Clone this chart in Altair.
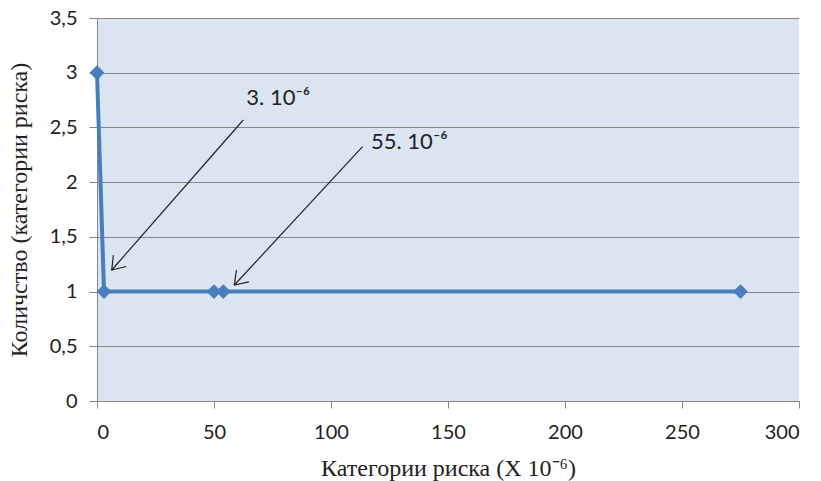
import altair as alt
import pandas as pd

# series
risk_x = [0, 3, 50, 54, 275]
count_y = [3, 1, 1, 1, 1]

# annotation arrows (data coords): start -> end
arr_x1 = [62.5, 113.5]
arr_y1 = [2.568, 2.324]
arr_x2 = [6.3, 58.7]
arr_y2 = [1.197, 1.060]
arr_angle = [131.3, 132.9]

# annotation texts
ann_text = ["3. 10⁻⁶", "55. 10⁻⁶"]
ann_x = [63.8, 117.1]
ann_y = [2.767, 2.367]

df = pd.DataFrame({"x": risk_x, "y": count_y})
arr = pd.DataFrame({"x": arr_x1, "y": arr_y1, "x2": arr_x2, "y2": arr_y2, "angle": arr_angle})
ann = pd.DataFrame({"x": ann_x, "y": ann_y, "t": ann_text})

xs = alt.Scale(domain=[0, 300], nice=False, zero=True)
ys = alt.Scale(domain=[0, 3.5], nice=False)

X = alt.X("x:Q", scale=xs, axis=alt.Axis(
    title="Категории риска (X 10⁻⁶)", values=[0, 50, 100, 150, 200, 250, 300],
    grid=False, tickSize=7, tickColor="#868686", domainColor="#868686",
    labelFont="Lato", labelFontSize=20, labelColor="#222222", labelPadding=14,
    titleFont="Liberation Serif", titleFontSize=24, titleFontWeight="normal",
    titleColor="#222222", titlePadding=14))
Y = alt.Y("y:Q", scale=ys, axis=alt.Axis(
    title="Количство (категории риска)", values=[0, 0.5, 1, 1.5, 2, 2.5, 3, 3.5],
    labelExpr="replace(toString(datum.value), '.', ',')",
    grid=True, gridColor="#868686", gridWidth=1,
    tickSize=8, tickColor="#868686", domainColor="#868686",
    labelFont="Lato", labelFontSize=20, labelColor="#222222", labelPadding=12,
    titleFont="Liberation Serif", titleFontSize=24, titleFontWeight="normal",
    titleColor="#222222", titlePadding=18))

line = alt.Chart(df).mark_line(color="#4a7ebb", strokeWidth=4).encode(x=X, y=Y)
pts = alt.Chart(df).mark_point(shape="diamond", filled=True, size=220,
                               color="#4a7ebb", opacity=1).encode(x="x:Q", y="y:Q")

shafts = alt.Chart(arr).mark_rule(color="#222222", strokeWidth=1.2).encode(
    x="x:Q", y="y:Q", x2="x2:Q", y2="y2:Q")
heads = alt.Chart(arr).mark_point(
    shape="M-1,-0.7L0,0L-1,0.7", filled=False, size=600,
    color="#222222", strokeWidth=1.2, opacity=1).encode(
    x=alt.X("x2:Q"), y=alt.Y("y2:Q"), angle=alt.Angle("angle:Q", scale=None))

texts = alt.Chart(ann).mark_text(align="left", baseline="middle", font="Lato",
                                 fontSize=22, color="#222222").encode(
    x="x:Q", y="y:Q", text="t:N")

chart = alt.layer(line, pts, shafts, heads, texts).properties(
    width=702, height=383,
    autosize=alt.AutoSizeParams(type="none"),
    padding={"left": 97, "top": 18, "right": 22, "bottom": 80},
    background="white",
).configure_view(fill="#dbe5f1", stroke=None)

chart.save("out.html", embed_options={"renderer": "svg", "actions": False})
